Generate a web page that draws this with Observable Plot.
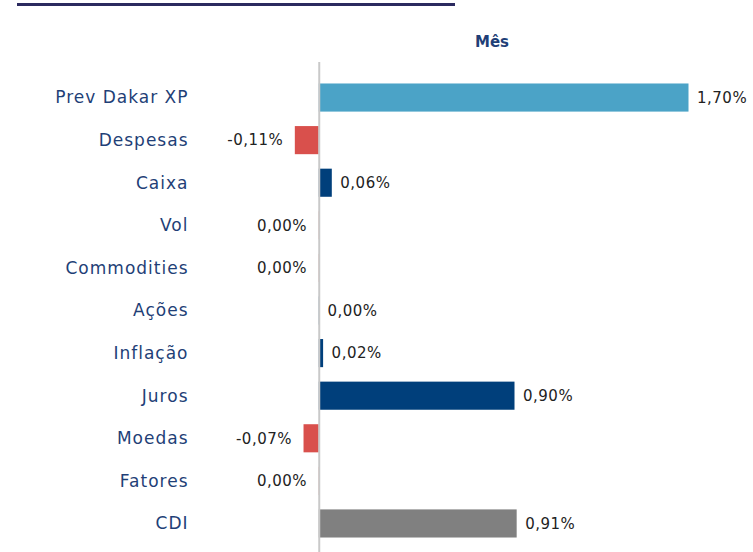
<!DOCTYPE html>
<html>
<head>
<meta charset="utf-8">
<script src="https://cdn.jsdelivr.net/npm/d3@7"></script>
<script src="https://cdn.jsdelivr.net/npm/@observablehq/plot@0.6"></script>
<style>
  html, body { margin: 0; padding: 0; background: #fff; }
  #wrap { position: relative; width: 753px; height: 552px; overflow: hidden; font-family: "DejaVu Sans", Verdana, sans-serif; }
  #rule { position: absolute; left: 17px; top: 3px; width: 438px; height: 0; border-top: 3px solid #2b2a5f; }
  #head { position: absolute; left: 452px; width: 80px; top: 33px; text-align: center; font-weight: bold; font-size: 15px; color: #1f3f77; }
  #plot { position: absolute; left: 0; top: 56px; }
</style>
</head>
<body>
<div id="wrap">
  <div id="rule"></div>
  <div id="head">Mês</div>
  <div id="plot"></div>
</div>
<script>
const categories = ["Prev Dakar XP", "Despesas", "Caixa", "Vol", "Commodities", "Ações", "Inflação", "Juros", "Moedas", "Fatores", "CDI"];
const values = [1.70, -0.11, 0.06, -0.001, -0.001, 0.001, 0.02, 0.90, -0.07, -0.001, 0.91];
const valueLabels = ["1,70%", "-0,11%", "0,06%", "0,00%", "0,00%", "0,00%", "0,02%", "0,90%", "-0,07%", "0,00%", "0,91%"];

const data = categories.map((c, i) => ({cat: c, value: values[i], label: valueLabels[i]}));

const colorOf = d => d.cat === "Prev Dakar XP" ? "#4ba3c7"
  : d.cat === "CDI" ? "#808080"
  : d.value < 0 ? "#d9504c" : "#003f7b";

const chart = Plot.plot({
  width: 753,
  height: 496,
  marginLeft: 210,
  marginRight: 21,
  marginTop: 13,
  marginBottom: 0,
  style: {fontFamily: "DejaVu Sans, Verdana, sans-serif", background: "#fff"},
  x: {domain: [-0.5, 1.9], axis: null},
  y: {domain: categories, padding: 0.34, round: false, axis: null},
  color: {type: "identity"},
  marks: [
    Plot.axisY({tickSize: 0, tickPadding: 22, fontSize: 17, color: "#1f3f77", label: null}),
    Plot.barX(data, {x: "value", y: "cat", fill: colorOf}),
    Plot.ruleX([0], {stroke: "#c9c9c9", strokeWidth: 2, insetTop: -7}),
    Plot.text(data.filter(d => d.value >= 0), {x: "value", y: "cat", text: "label", textAnchor: "start", dx: 8, fontSize: 15, fill: "#222"}),
    Plot.text(data.filter(d => d.value < 0), {x: "value", y: "cat", text: "label", textAnchor: "end", dx: -12, fontSize: 15, fill: "#222"})
  ]
});
document.getElementById("plot").appendChild(chart);
d3.select(chart).selectAll('[aria-label="y-axis tick label"] text').style("letter-spacing", "1px");
d3.select(chart).selectAll('[aria-label="text"] text').style("letter-spacing", "0.5px");
</script>
</body>
</html>
